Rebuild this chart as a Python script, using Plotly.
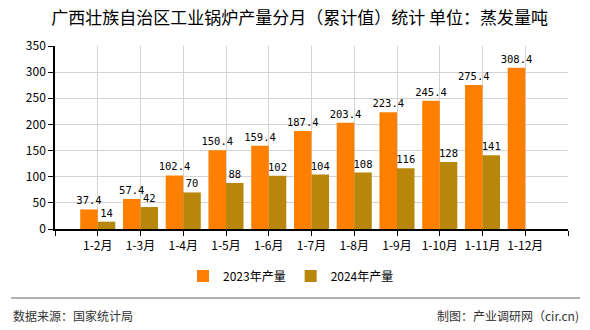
import plotly.graph_objects as go

# Cumulative monthly output, Guangxi industrial boilers (evaporation tonnes)
categories = ["1-2月", "1-3月", "1-4月", "1-5月", "1-6月", "1-7月",
              "1-8月", "1-9月", "1-10月", "1-11月", "1-12月"]
output_2023 = [37.4, 57.4, 102.4, 150.4, 159.4, 187.4, 203.4, 223.4, 245.4, 275.4, 308.4]
output_2024 = [14, 42, 70, 88, 102, 104, 108, 116, 128, 141, None]
y_ticks = [0, 50, 100, 150, 200, 250, 300, 350]

W, H = 590, 330
L, R, T, B = 55, 22, 46, 101
plot_w = W - L - R
plot_h = H - T - B

def px_x(px):
    return (px - L) / plot_w

def px_y(py):
    return (H - B - py) / plot_h

xs = list(range(len(categories)))
CJK = "Noto Sans CJK SC"
MONO = "DejaVu Sans Mono"

def fmt(v):
    if v is None:
        return ""
    return f"{v:g}"

fig = go.Figure()
fig.add_trace(go.Bar(
    x=xs, y=output_2023, name="2023年产量",
    marker=dict(color="#FF8000", line=dict(width=0)),
    text=[fmt(v) for v in output_2023], textposition="outside",
    constraintext="none",
    textfont=dict(family=MONO, size=10.5, color="#000"),
    cliponaxis=False,
))
fig.add_trace(go.Bar(
    x=xs, y=output_2024, name="2024年产量",
    marker=dict(color="#B8860B", line=dict(width=0)),
    text=[fmt(v) for v in output_2024], textposition="outside",
    constraintext="none",
    textfont=dict(family=MONO, size=10.5, color="#000"),
    cliponaxis=False,
))

tickvals = [-1] + xs + [len(categories)]
ticktext = [""] + categories + [""]

fig.update_layout(
    width=W, height=H,
    margin=dict(l=L, r=R, t=T, b=B, pad=0),
    paper_bgcolor="white", plot_bgcolor="white",
    barmode="group", bargap=0.18, bargroupgap=0,
    font=dict(family=CJK, size=12, color="#000"),
    title=dict(
        text="广西壮族自治区工业锅炉产量分月（累计值）统计 单位：蒸发量吨",
        font=dict(family=CJK, size=17, color="#000"),
        x=0.508, xref="container", xanchor="center",
        y=1 - 18 / H, yref="container", yanchor="middle",
    ),
    xaxis=dict(
        range=[-1, len(categories)],
        tickmode="array", tickvals=tickvals, ticktext=ticktext,
        showgrid=True, gridcolor="#d3d3d3", gridwidth=1,
        showline=True, linecolor="#000", linewidth=1.5,
        ticks="outside", ticklen=5, tickcolor="#000", tickwidth=1,
        tickfont=dict(family=CJK, size=12, color="#000"),
        zeroline=False,
    ),
    yaxis=dict(
        range=[0, 350], tickmode="array", tickvals=y_ticks,
        showgrid=True, gridcolor="#d3d3d3", gridwidth=1,
        showline=True, linecolor="#000", linewidth=1.5,
        ticks="outside", ticklen=5, tickcolor="#000", tickwidth=1,
        tickfont=dict(family=CJK, size=12, color="#000"),
        zeroline=False,
    ),
    legend=dict(
        orientation="h", x=px_x(291), xanchor="center",
        y=px_y(276), yanchor="middle",
        font=dict(family=CJK, size=12, color="#000"),
        bgcolor="rgba(0,0,0,0)", itemwidth=30,
        traceorder="normal",
    ),
    showlegend=True,
)

# Footer divider and source notes
fig.add_shape(type="line", xref="paper", yref="paper",
              x0=px_x(11), x1=px_x(580), y0=px_y(298), y1=px_y(298),
              line=dict(color="#999", width=1.5))
fig.add_annotation(text="数据来源：国家统计局", xref="paper", yref="paper",
                   x=px_x(11), y=px_y(315), xanchor="left", yanchor="middle",
                   showarrow=False, font=dict(family=CJK, size=12, color="#333"))
fig.add_annotation(text="制图：产业调研网（cir.cn)", xref="paper", yref="paper",
                   x=px_x(581), y=px_y(315), xanchor="right", yanchor="middle",
                   showarrow=False, font=dict(family=CJK, size=12, color="#333"))

fig.write_html("out.html")
